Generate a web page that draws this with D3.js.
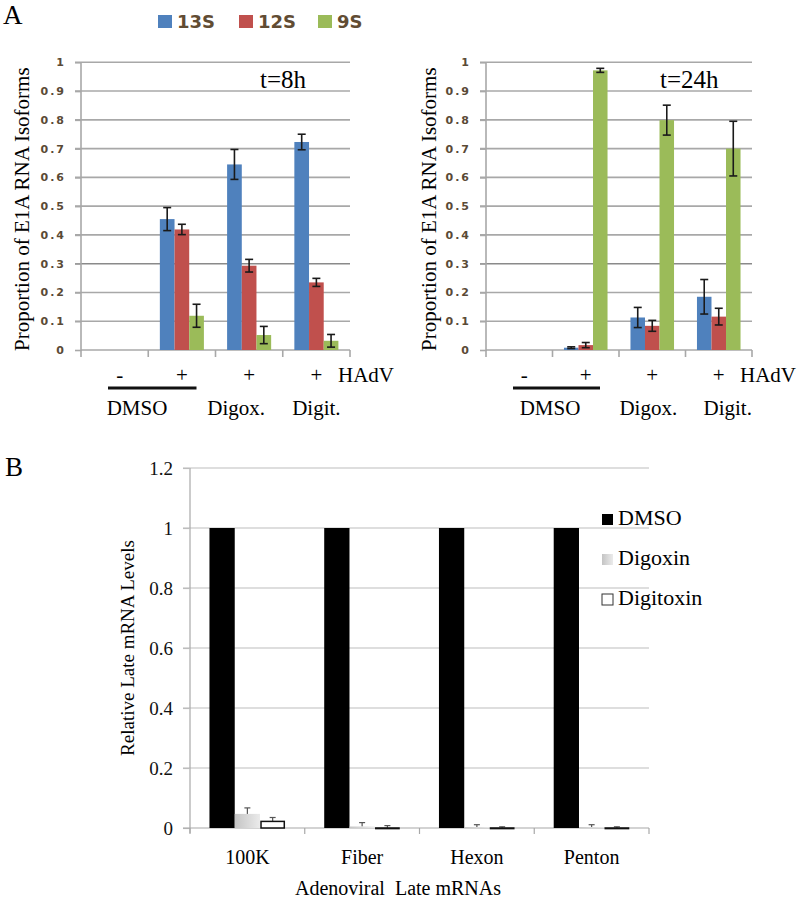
<!DOCTYPE html>
<html>
<head>
<meta charset="utf-8">
<script src="https://cdn.jsdelivr.net/npm/d3@7"></script>
<style>
  html, body { margin: 0; padding: 0; background: #fff; }
  svg { display: block; }
</style>
</head>
<body>
<script>
// ---------------- DATA ----------------
const seriesA = ["13S", "12S", "9S"];
const seriesAColors = ["#4f81bd", "#c0504d", "#9bbb59"];
const catsA = ["DMSO -", "DMSO +", "Digox. +", "Digit. +"];
const hadvLabels = ["-", "+", "+", "+"];
const treatLabels = ["DMSO", "Digox.", "Digit."];
const ticksA = [0, 0.1, 0.2, 0.3, 0.4, 0.5, 0.6, 0.7, 0.8, 0.9, 1];

// t = 8h
const t8_13S = [0, 0.455, 0.645, 0.723];
const t8_12S = [0, 0.419, 0.293, 0.235];
const t8_9S  = [0, 0.119, 0.052, 0.032];
const t8_err13S = [0, 0.040, 0.052, 0.027];
const t8_err12S = [0, 0.018, 0.022, 0.014];
const t8_err9S  = [0, 0.040, 0.030, 0.022];

// t = 24h
const t24_13S = [0, 0.008, 0.113, 0.185];
const t24_12S = [0, 0.017, 0.084, 0.116];
const t24_9S  = [0, 0.972, 0.799, 0.700];
const t24_err13S = [0, 0.003, 0.035, 0.060];
const t24_err12S = [0, 0.009, 0.019, 0.029];
const t24_err9S  = [0, 0.007, 0.052, 0.095];

// Panel B
const catsB = ["100K", "Fiber", "Hexon", "Penton"];
const seriesB = ["DMSO", "Digoxin", "Digitoxin"];
const ticksB = [0, 0.2, 0.4, 0.6, 0.8, 1, 1.2];
const dmsoB      = [1, 1, 1, 1];
const digoxinB   = [0.047, 0.005, 0.003, 0.003];
const digitoxinB = [0.022, -0.002, -0.002, -0.002];
const dmsoErrB      = [0, 0, 0, 0];
const digoxinErrB   = [0.020, 0.013, 0.008, 0.008];
const digitoxinErrB = [0.013, 0.010, 0.006, 0.006];

// ---------------- DRAW ----------------
const W = 800, H = 898;
const svg = d3.select("body").append("svg").attr("width", W).attr("height", H);
const serif = "'Liberation Serif', 'Times New Roman', serif";
const sans = "'DejaVu Sans', Verdana, sans-serif";

const defs = svg.append("defs");
const g1 = defs.append("linearGradient").attr("id", "digoxGrad")
  .attr("x1", "0").attr("x2", "1").attr("y1", "0").attr("y2", "0");
g1.append("stop").attr("offset", "0%").attr("stop-color", "#c4c4c4");
g1.append("stop").attr("offset", "100%").attr("stop-color", "#ebebeb");

// panel letters
svg.append("text").attr("x", 3).attr("y", 24).attr("font-family", serif)
  .attr("font-size", 27).text("A");
svg.append("text").attr("x", 5).attr("y", 476).attr("font-family", serif)
  .attr("font-size", 27).text("B");

// legend A
const legA = svg.append("g");
const legAx = [158, 239, 318];
seriesA.forEach((s, i) => {
  const lx = legAx[i];
  legA.append("rect").attr("x", lx).attr("y", 15).attr("width", 14).attr("height", 13)
    .attr("fill", seriesAColors[i]);
  legA.append("text").attr("x", lx + 19).attr("y", 28).attr("font-family", sans)
    .attr("font-weight", "bold").attr("font-size", 18).attr("fill", "#614c33").text(s);
});

function panelA(opts) {
  const { x0, x1, yTop, yBot, vals, errs, title, tx, labelOffsets, dmsoCenter, titleX } = opts;
  const g = svg.append("g");
  const y = d3.scaleLinear().domain([0, 1]).range([yBot, yTop]);
  const x = d3.scaleBand().domain(catsA).range([x0, x1]).paddingInner(0).paddingOuter(0);
  const xs = d3.scaleBand().domain(seriesA).range([0, x.bandwidth()]).paddingInner(0).paddingOuter(0.79);

  // gridlines
  g.append("g").selectAll("line").data(ticksA.filter(t => t > 0)).join("line")
    .attr("x1", x0 - 6).attr("x2", x1).attr("y1", d => y(d)).attr("y2", d => y(d))
    .attr("stroke", d => Math.abs(d - 0.3) < 1e-9 ? "#8a8a8a" : "#a8a8a8").attr("stroke-width", 1.6);

  // y axis
  const ya = d3.axisLeft(y).tickValues(ticksA).tickSize(6).tickPadding(11)
    .tickFormat(d => d === 0 ? "0" : d === 1 ? "1" : d3.format(".1f")(d));
  const yg = g.append("g").attr("transform", `translate(${x0},0)`).call(ya);
  yg.select(".domain").attr("stroke", "#a8a8a8").attr("stroke-width", 1.6)
    .attr("d", `M0,${yTop}V${yBot + 1}`);
  yg.selectAll(".tick line").attr("stroke", "#a8a8a8").attr("stroke-width", 1.6);
  yg.selectAll(".tick text").attr("font-family", sans).attr("font-weight", "bold")
    .attr("font-size", 11).attr("letter-spacing", "2px").attr("dx", "2px").attr("fill", "#5a4a36");

  // x axis
  const xg = g.append("g");
  xg.append("line").attr("x1", x0).attr("x2", x1).attr("y1", yBot).attr("y2", yBot)
    .attr("stroke", "#a8a8a8").attr("stroke-width", 1.6);
  xg.selectAll("line.tk").data(catsA.concat(["end"])).join("line").attr("class", "tk")
    .attr("x1", (d, i) => x0 + i * x.step()).attr("x2", (d, i) => x0 + i * x.step())
    .attr("y1", yBot).attr("y2", yBot + 7)
    .attr("stroke", "#a8a8a8").attr("stroke-width", 1.6);

  // bars
  seriesA.forEach((s, si) => {
    const data = vals[si].map((v, ci) => ({ v, e: errs[si][ci], c: catsA[ci] })).filter(d => d.v > 0);
    g.append("g").selectAll("rect").data(data).join("rect")
      .attr("x", d => x(d.c) + xs(s)).attr("width", xs.bandwidth())
      .attr("y", d => y(d.v)).attr("height", d => y(0) - y(d.v))
      .attr("fill", seriesAColors[si]);
    const eg = g.append("g").attr("stroke", "#1a1a1a").attr("stroke-width", 1.6);
    data.forEach(d => {
      const cx = x(d.c) + xs(s) + xs.bandwidth() / 2;
      eg.append("line").attr("x1", cx).attr("x2", cx).attr("y1", y(d.v + d.e)).attr("y2", y(d.v - d.e));
      eg.append("line").attr("x1", cx - 4).attr("x2", cx + 4).attr("y1", y(d.v + d.e)).attr("y2", y(d.v + d.e));
      eg.append("line").attr("x1", cx - 4).attr("x2", cx + 4).attr("y1", y(d.v - d.e)).attr("y2", y(d.v - d.e));
    });
  });

  // time label
  g.append("text").attr("x", tx).attr("y", 88).attr("font-family", serif)
    .attr("font-size", 25).text(title);

  // HAdV row
  catsA.forEach((c, i) => {
    g.append("text").attr("x", x(c) + x.bandwidth() / 2 + (i === 0 ? 5 : 0)).attr("y", 382)
      .attr("text-anchor", "middle").attr("font-family", serif).attr("font-size", 21)
      .text(hadvLabels[i]);
  });
  g.append("text").attr("x", x1 - 12).attr("y", 382).attr("font-family", serif)
    .attr("font-size", 21).text("HAdV");
  // DMSO underline
  g.append("line").attr("x1", x(catsA[0]) + 27).attr("x2", x(catsA[1]) + x.bandwidth() - 19)
    .attr("y1", 388).attr("y2", 388).attr("stroke", "#111").attr("stroke-width", 3);
  // treatment labels
  const tX = [dmsoCenter, x(catsA[2]) + x.bandwidth() / 2 + labelOffsets[0], x(catsA[3]) + x.bandwidth() / 2 + labelOffsets[1]];
  treatLabels.forEach((t, i) => {
    g.append("text").attr("x", tX[i]).attr("y", 415).attr("text-anchor", "middle")
      .attr("font-family", serif).attr("font-size", 21).text(t);
  });

  // y title
  g.append("text").attr("transform", `translate(${titleX},${(yTop + yBot) / 2 + 3}) rotate(-90)`)
    .attr("text-anchor", "middle").attr("dominant-baseline", "central")
    .attr("font-family", serif).attr("font-size", 21).text("Proportion of E1A RNA Isoforms");
}

panelA({ x0: 81, x1: 350, yTop: 62.3, yBot: 350,
  vals: [t8_13S, t8_12S, t8_9S], errs: [t8_err13S, t8_err12S, t8_err9S],
  title: "t=8h", tx: 260, labelOffsets: [-13, 0], dmsoCenter: 137, titleX: 22 });
panelA({ x0: 486, x1: 752, yTop: 62.3, yBot: 350,
  vals: [t24_13S, t24_12S, t24_9S], errs: [t24_err13S, t24_err12S, t24_err9S],
  title: "t=24h", tx: 660, labelOffsets: [-4, 9], dmsoCenter: 550, titleX: 429 });

// ---------------- Panel B ----------------
(function () {
  const x0 = 190, x1 = 649, yTop = 468, yBot = 828;
  const g = svg.append("g");
  const y = d3.scaleLinear().domain([0, 1.2]).range([yBot, yTop]);
  const x = d3.scaleBand().domain(catsB).range([x0, x1]).paddingInner(0).paddingOuter(0);
  const xs = d3.scaleBand().domain(seriesB).range([0, x.bandwidth()]).paddingOuter(0.77).paddingInner(0);

  g.append("g").selectAll("line").data(ticksB.filter(t => t > 0)).join("line")
    .attr("x1", x0 - 7).attr("x2", x1).attr("y1", d => y(d)).attr("y2", d => y(d))
    .attr("stroke", "#bdbdbd").attr("stroke-width", 1.2);

  const ya = d3.axisLeft(y).tickValues(ticksB).tickSize(7).tickPadding(10)
    .tickFormat(d => d3.format("~g")(d));
  const yg = g.append("g").attr("transform", `translate(${x0},0)`).call(ya);
  yg.select(".domain").attr("stroke", "#a8a8a8").attr("stroke-width", 1.2)
    .attr("d", `M0,${yTop}V${yBot + 5}`);
  yg.selectAll(".tick line").attr("stroke", "#bdbdbd").attr("stroke-width", 1.2);
  yg.selectAll(".tick text").attr("font-family", serif).attr("font-size", 19).attr("fill", "#111");

  g.append("line").attr("x1", x0 - 7).attr("x2", x1).attr("y1", yBot).attr("y2", yBot)
    .attr("stroke", "#a8a8a8").attr("stroke-width", 1.2);
  g.selectAll("line.tk").data(catsB.concat(["end"])).join("line").attr("class", "tk")
    .attr("x1", (d, i) => x0 + i * x.step()).attr("x2", (d, i) => x0 + i * x.step())
    .attr("y1", yBot).attr("y2", yBot + 6).attr("stroke", "#a8a8a8").attr("stroke-width", 1.2);

  const valsB = [dmsoB, digoxinB, digitoxinB];
  const errsB = [dmsoErrB, digoxinErrB, digitoxinErrB];
  const fills = ["#000", "url(#digoxGrad)", "#fff"];
  const strokes = ["none", "none", "#111"];
  seriesB.forEach((s, si) => {
    const data = valsB[si].map((v, ci) => ({ v, e: errsB[si][ci], c: catsB[ci] }));
    const eg = g.append("g").attr("stroke", "#555").attr("stroke-width", 1.2);
    data.filter(d => d.e > 0).forEach(d => {
      const cx = x(d.c) + xs(s) + xs.bandwidth() / 2;
      eg.append("line").attr("x1", cx).attr("x2", cx).attr("y1", y(d.v + d.e)).attr("y2", y(Math.max(d.v, 0)));
      eg.append("line").attr("x1", cx - 3).attr("x2", cx + 3).attr("y1", y(d.v + d.e)).attr("y2", y(d.v + d.e));
    });
    g.append("g").selectAll("rect").data(data).join("rect")
      .attr("x", d => x(d.c) + xs(s) + (si === 2 ? 1 : 0))
      .attr("width", xs.bandwidth() - (si === 2 ? 2 : 0))
      .attr("y", d => y(Math.max(d.v, 0)))
      .attr("height", d => Math.abs(y(0) - y(d.v)))
      .attr("fill", fills[si]).attr("stroke", strokes[si]).attr("stroke-width", 1.5);
  });

  g.selectAll("text.cat").data(catsB).join("text").attr("class", "cat")
    .attr("x", d => x(d) + x.bandwidth() / 2).attr("y", 864).attr("text-anchor", "middle")
    .attr("font-family", serif).attr("font-size", 20).text(d => d);

  g.append("text").attr("x", 398).attr("y", 895).attr("text-anchor", "middle")
    .attr("font-family", serif).attr("font-size", 20).attr("xml:space", "preserve")
    .text("Adenoviral  Late mRNAs");

  g.append("text").attr("transform", `translate(127,648) rotate(-90)`)
    .attr("text-anchor", "middle").attr("dominant-baseline", "central")
    .attr("font-family", serif).attr("font-size", 19).text("Relative Late mRNA Levels");

  // legend B
  const legFills = ["#000", "url(#digoxGrad)", "#fff"];
  seriesB.forEach((s, i) => {
    const ly = 519 + i * 40;
    g.append("rect").attr("x", 602).attr("y", ly - 5).attr("width", 11).attr("height", 11)
      .attr("fill", legFills[i]).attr("stroke", i === 2 ? "#333" : "none").attr("stroke-width", 1);
    g.append("text").attr("x", 618).attr("y", ly + 6).attr("font-family", serif)
      .attr("font-size", 22).text(s);
  });
})();
</script>
</body>
</html>
